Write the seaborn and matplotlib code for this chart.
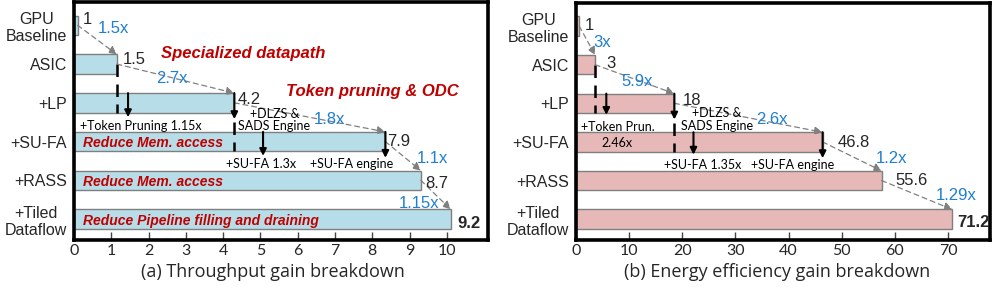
import matplotlib
matplotlib.use("Agg")
import matplotlib.pyplot as plt
import seaborn as sns

# categories (top to bottom)
stages = ["GPU\nBaseline", "ASIC", "+LP", "+SU-FA", "+RASS", "+Tiled\nDataflow"]

# drawn bar lengths and printed value labels
thr_len = [0.1, 1.15, 4.3, 8.35, 9.3, 10.1]
thr_lbl = ["1", "1.5", "4.2", "7.9", "8.7", "9.2"]
thr_gain = ["1.5x", "2.7x", "1.8x", "1.1x", "1.15x"]
thr_sub = [1.45, 5.07]          # intermediate step positions (token pruning, SU-FA)

eng_len = [0.6, 3.6, 18.5, 46.4, 57.5, 70.8]
eng_lbl = ["1", "3", "18", "46.8", "55.6", "71.2"]
eng_gain = ["3x", "5.9x", "2.6x", "1.2x", "1.29x"]
eng_sub = [5.7, 22.1]

BLUE = "#1f7fd1"
RED = "#c00000"
GRAY = "#7f7f7f"

sns.set_theme(style="white")
plt.rcParams["font.family"] = ["Liberation Sans", "DejaVu Sans"]

fig = plt.figure(figsize=(9.94, 2.87), dpi=100)
axL = fig.add_axes([0.0744, 0.1638, 0.4165, 0.829])
axR = fig.add_axes([0.5795, 0.1638, 0.4165, 0.826])


def base(ax, lens, color, xmax, ticks):
    sns.barplot(x=lens, y=stages, orient="h", color=color, saturation=1,
                edgecolor=GRAY, linewidth=1, width=0.5, ax=ax)
    ax.set_xlim(0, xmax)
    ax.set_ylim(5.54, -0.6)
    ax.set_xticks(ticks)
    ax.set_xlabel("")
    ax.set_ylabel("")
    for s in ax.spines.values():
        s.set_visible(True)
        s.set_color("black")
        s.set_linewidth(2.6)
    ax.tick_params(axis="x", direction="in", length=6, width=1, color="#444444",
                   bottom=True, pad=3, labelsize=11.5)
    ax.tick_params(axis="y", length=0, pad=5, labelsize=11.5)
    for t in ax.get_xticklabels():
        t.set_family("Lato")
    for t in ax.get_yticklabels():
        t.set_multialignment("center")


def steps(ax, lens):
    # grey dashed arrows from one bar end to the next
    for i in range(len(lens) - 1):
        ax.annotate("", xy=(lens[i + 1], i + 0.75), xytext=(lens[i], i),
                    arrowprops=dict(arrowstyle="-|>", color="#808080", lw=0.9,
                                    linestyle=(0, (4, 3)), mutation_scale=12,
                                    shrinkA=0, shrinkB=0))


def down(ax, x, y0, y1):
    ax.annotate("", xy=(x, y1), xytext=(x, y0),
                arrowprops=dict(arrowstyle="-|>", color="black", lw=1.5,
                                mutation_scale=10, shrinkA=0, shrinkB=0))


def dash(ax, x, y0, y1):
    ax.plot([x, x], [y0, y1], color="black", lw=1.8, linestyle=(0, (5, 3)))


def small(ax, x, y, s, ha="center"):
    ax.text(x, y, s, ha=ha, va="center_baseline", fontsize=9, family="Lato",
            color="black")


# ---------------- (a) throughput ----------------
base(axL, thr_len, "#b7dee8", 11.1, range(0, 11))
steps(axL, thr_len)
dash(axL, thr_len[1], 1.0, 2.25)
down(axL, thr_sub[0], 1.75, 2.37)
down(axL, thr_len[2], 1.75, 2.42)
dash(axL, thr_len[2], 2.5, 3.25)
down(axL, thr_sub[1], 2.75, 3.37)
down(axL, thr_len[3], 2.75, 3.42)

val_pos_L = [(0.24, -0.18), (1.31, 0.85), (4.4, 1.88), (8.39, 2.96), (9.41, 4.05), (10.27, 5.08)]
for (x, y), s, i in zip(val_pos_L, thr_lbl, range(6)):
    axL.text(x, y, s, ha="left", va="center_baseline", fontsize=12,
             fontweight="bold" if i == 5 else "normal")

gain_pos_L = [(1.05, 0.05), (2.63, 1.34), (6.86, 2.40), (9.6, 3.40), (9.25, 4.56)]
for (x, y), s in zip(gain_pos_L, thr_gain):
    axL.text(x, y, s, ha="center", va="center_baseline", fontsize=12, color=BLUE)

axL.text(4.53, 0.70, "Specialized datapath", ha="center", va="center_baseline",
         fontsize=12, color=RED, fontweight="bold", style="italic")
axL.text(7.99, 1.68, "Token pruning & ODC", ha="center", va="center_baseline",
         fontsize=12, color=RED, fontweight="bold", style="italic")
for y, s in [(3, "Reduce Mem. access"), (4, "Reduce Mem. access"),
             (5, "Reduce Pipeline filling and draining")]:
    axL.text(0.24, y, s, ha="left", va="center_baseline", fontsize=10, color=RED,
             fontweight="bold", style="italic")

small(axL, 0.16, 2.58, "+Token Pruning 1.15x", ha="left")
small(axL, 5.39, 2.27, "+DLZS &")
small(axL, 5.36, 2.58, "SADS Engine")
small(axL, 5.01, 3.56, "+SU-FA 1.3x")
small(axL, 7.45, 3.56, "+SU-FA engine")

# ---------------- (b) energy efficiency ----------------
base(axR, eng_len, "#e6b9b8", 77.9, range(0, 71, 10))
steps(axR, eng_len)
dash(axR, eng_len[1], 1.0, 2.25)
down(axR, eng_sub[0], 1.75, 2.3)
down(axR, eng_len[2], 1.75, 2.42)
dash(axR, eng_len[2], 2.5, 3.25)
down(axR, eng_sub[1], 2.75, 3.33)
down(axR, eng_len[3], 2.75, 3.42)

val_pos_R = [(1.7, -0.05), (5.66, 0.93), (20.0, 1.89), (49.2, 2.98), (60.0, 3.96), (71.7, 5.05)]
for (x, y), s, i in zip(val_pos_R, eng_lbl, range(6)):
    axR.text(x, y, s, ha="left", va="center_baseline", fontsize=12,
             fontweight="bold" if i == 5 else "normal")

gain_pos_R = [(4.9, 0.39), (11.5, 1.40), (36.8, 2.38), (59.4, 3.39), (71.5, 4.35)]
for (x, y), s in zip(gain_pos_R, eng_gain):
    axR.text(x, y, s, ha="center", va="center_baseline", fontsize=12, color=BLUE)

small(axR, 0.94, 2.59, "+Token Prun.", ha="left")
small(axR, 7.7, 3.0, "2.46x")
small(axR, 26.5, 2.23, "+DLZS &")
small(axR, 26.6, 2.56, "SADS Engine")
small(axR, 23.9, 3.58, "+SU-FA 1.35x")
small(axR, 40.75, 3.58, "+SU-FA engine")

fig.text(273 / 994, 1 - 272 / 287, "(a) Throughput gain breakdown", ha="center",
         va="center", fontsize=13, family="Open Sans")
fig.text(777 / 994, 1 - 272 / 287, "(b) Energy efficiency gain breakdown", ha="center",
         va="center", fontsize=13, family="Open Sans")

fig.savefig("out.png", dpi=100)
